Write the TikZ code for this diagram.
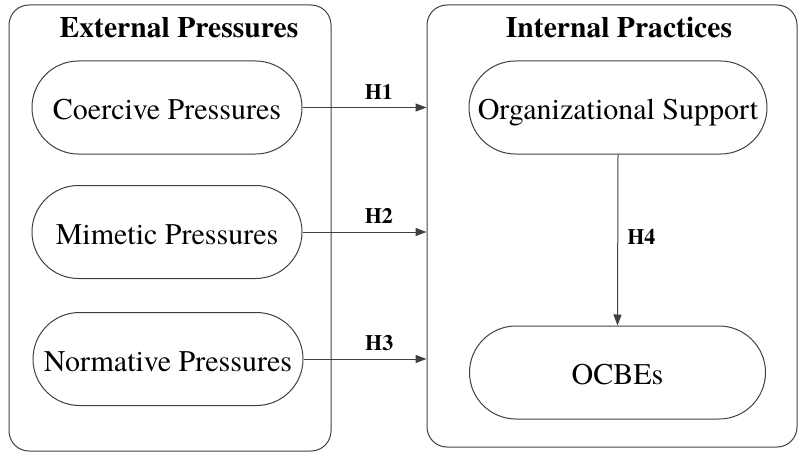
\documentclass[tikz,border=0pt]{standalone}
\usepackage{fontspec}
\setmainfont{texgyretermes}[Extension=.otf, UprightFont=*-regular, BoldFont=*-bold, ItalicFont=*-italic, BoldItalicFont=*-bolditalic]
\usetikzlibrary{shapes.misc,arrows.meta}
\begin{document}
\begin{tikzpicture}[x=1pt,y=-1pt,
  ln/.style={draw=black!75, line width=1pt},
  group/.style={ln, rectangle, rounded corners=20pt, inner sep=0pt},
  pill/.style={ln, rounded rectangle, minimum height=93pt, inner sep=0pt,
     text height=24pt, text depth=0pt,
     font=\fontsize{30}{33}\selectfont},
  ttl/.style={font=\fontsize{29.6}{32}\selectfont\bfseries, inner sep=0pt},
  lab/.style={font=\fontsize{22}{24}\selectfont\bfseries, inner sep=0pt},
  arr/.style={ln, -{Triangle[length=11pt,width=8pt]}}]
\useasboundingbox (0,0) rectangle (800,452);
% groups
\node[group, minimum width=322pt, minimum height=446pt] (lbox) at (170,228) {};
\node[group, minimum width=370pt, minimum height=442pt] (rbox) at (612,226) {};
\node[ttl] (lttl) at (179,28) {External Pressures};
\node[ttl] (rttl) at (619,28) {Internal Practices};
% pills
\node[pill, minimum width=270pt] (coe) at (167,107.5) {Coercive Pressures};
\node[pill, minimum width=270pt] (mim) at (167,232) {Mimetic Pressures};
\node[pill, minimum width=270pt] (nor) at (168,359) {Normative Pressures};
\node[pill, minimum width=298pt] (org) at (618,107.5) {Organizational Support};
\node[pill, minimum width=296pt] (ocb) at (617.5,372.5) {OCBEs};
% connectors
\draw[arr] (coe.east) -- node[lab, pos=0.616, above=8pt] (h1) {H1} (coe.east -| rbox.west);
\draw[arr] (mim.east) -- node[lab, pos=0.616, above=8pt] (h2) {H2} (mim.east -| rbox.west);
\draw[arr] (nor.east) -- node[lab, pos=0.616, above=8pt] (h3) {H3} (nor.east -| rbox.west);
\draw[arr] (org.south) -- node[lab, pos=0.48, right=9pt] (h4) {H4} (ocb.north);
\end{tikzpicture}
\end{document}
